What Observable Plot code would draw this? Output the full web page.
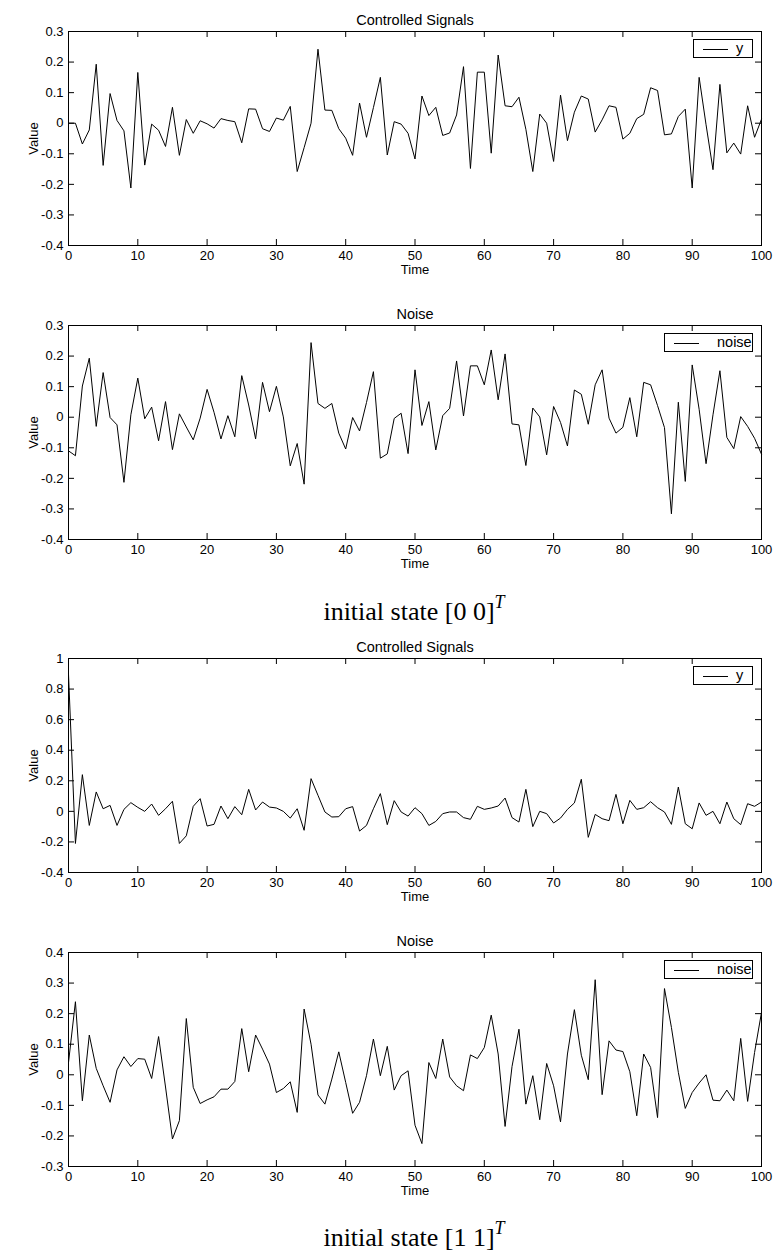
<!DOCTYPE html>
<html><head><meta charset="utf-8">
<script src="https://cdn.jsdelivr.net/npm/d3@7"></script>
<script src="https://cdn.jsdelivr.net/npm/@observablehq/plot@0.6"></script>
<style>
body{margin:0;background:#fff;}
#root{position:relative;width:776px;height:1254px;overflow:hidden;font-family:"Liberation Sans",Arial,sans-serif;background:#fff;}
.legend{position:absolute;border:1px solid #000;background:#fff;box-sizing:border-box;font-size:14.5px;}
.legend .ln{position:absolute;height:0;border-top:1px solid #000;}
.legend .tx{position:absolute;line-height:1;}
.caption{position:absolute;left:214px;width:400px;text-align:center;font-family:"Liberation Serif","DejaVu Serif",serif;font-size:26px;line-height:1;white-space:nowrap;}
.caption sup{font-style:italic;font-size:18px;position:relative;top:-2px;}
</style></head><body><div id="root"></div>
<script>
// ---- data ----
const time = Array.from({length: 101}, (_, i) => i);
const xTicks = [0, 10, 20, 30, 40, 50, 60, 70, 80, 90, 100];
const yTicksA = [-0.4, -0.3, -0.2, -0.1, 0, 0.1, 0.2, 0.3];
const yTicksB = [-0.4, -0.2, 0, 0.2, 0.4, 0.6, 0.8, 1];
const yTicksC = [-0.3, -0.2, -0.1, 0, 0.1, 0.2, 0.3, 0.4];

const ySignal1 = [0.0, 0.0, -0.068, -0.022, 0.193, -0.138, 0.097, 0.009, -0.025, -0.212,
 0.166, -0.137, -0.003, -0.023, -0.076, 0.052, -0.105, 0.012, -0.033, 0.008,
 -0.002, -0.016, 0.015, 0.009, 0.005, -0.064, 0.047, 0.046, -0.018, -0.027,
 0.017, 0.010, 0.055, -0.158, -0.080, 0.0, 0.242, 0.043, 0.042, -0.018,
 -0.049, -0.105, 0.066, -0.046, 0.051, 0.150, -0.104, 0.005, -0.003, -0.033,
 -0.117, 0.089, 0.025, 0.052, -0.040, -0.032, 0.027, 0.185, -0.148, 0.167,
 0.167, -0.098, 0.223, 0.057, 0.054, 0.085, -0.020, -0.158, 0.030, 0.0,
 -0.125, 0.092, -0.057, 0.036, 0.089, 0.079, -0.029, 0.011, 0.057, 0.052,
 -0.052, -0.033, 0.015, 0.029, 0.116, 0.107, -0.038, -0.035, 0.022, 0.046,
 -0.212, 0.150, -0.005, -0.152, 0.127, -0.097, -0.065, -0.101, 0.057, -0.046,
 0.013];

const noise1 = [-0.110, -0.126, 0.102, 0.193, -0.030, 0.146, -0.001, -0.025, -0.213, 0.008,
 0.128, -0.005, 0.033, -0.077, 0.051, -0.106, 0.011, -0.032, -0.074, -0.003,
 0.091, 0.016, -0.071, 0.005, -0.064, 0.136, 0.040, -0.071, 0.114, 0.018,
 0.101, 0.001, -0.159, -0.086, -0.219, 0.244, 0.045, 0.029, 0.045, -0.052,
 -0.104, -0.001, -0.045, 0.048, 0.149, -0.134, -0.120, -0.004, 0.013, -0.119,
 0.155, -0.027, 0.051, -0.107, 0.005, 0.029, 0.184, 0.004, 0.168, 0.168,
 0.106, 0.220, 0.057, 0.207, -0.022, -0.025, -0.158, 0.030, 0.001, -0.123,
 0.035, -0.017, -0.094, 0.089, 0.075, -0.023, 0.106, 0.155, -0.003, -0.052,
 -0.033, 0.064, -0.064, 0.114, 0.106, 0.038, -0.034, -0.316, 0.049, -0.210,
 0.171, 0.026, -0.152, 0.008, 0.152, -0.066, -0.103, 0.002, -0.030, -0.069,
 -0.121];

const ySignal2 = [0.900, -0.210, 0.240, -0.092, 0.127, 0.017, 0.039, -0.092, 0.013, 0.057,
 0.026, 0.0, 0.048, -0.026, 0.017, 0.066, -0.210, -0.160, 0.033, 0.083,
 -0.096, -0.085, 0.035, -0.048, 0.031, -0.022, 0.144, 0.009, 0.061, 0.028,
 0.022, 0.0, -0.044, 0.017, -0.124, 0.214, 0.105, -0.004, -0.037, -0.035,
 0.017, 0.031, -0.129, -0.092, 0.017, 0.116, -0.087, 0.070, -0.004, -0.031,
 0.024, -0.015, -0.092, -0.066, -0.015, -0.004, -0.004, -0.041, -0.052, 0.033,
 0.013, 0.022, 0.035, 0.087, -0.041, -0.070, 0.144, -0.100, 0.0, -0.015,
 -0.076, -0.044, 0.013, 0.055, 0.210, -0.170, -0.020, -0.048, -0.061, 0.111,
 -0.081, 0.072, 0.013, 0.024, 0.063, 0.024, -0.004, -0.085, 0.159, -0.081,
 -0.114, 0.055, -0.026, 0.0, -0.081, 0.061, -0.048, -0.087, 0.050, 0.033,
 0.061];

const noise2 = [0.040, 0.239, -0.085, 0.130, 0.021, -0.036, -0.090, 0.016, 0.059, 0.027,
 0.053, 0.051, -0.012, 0.125, -0.040, -0.210, -0.150, 0.184, -0.041, -0.094,
 -0.082, -0.072, -0.047, -0.047, -0.022, 0.151, 0.010, 0.130, 0.084, 0.035,
 -0.058, -0.045, -0.023, -0.123, 0.215, 0.100, -0.066, -0.096, -0.014, 0.075,
 -0.025, -0.126, -0.090, -0.003, 0.117, -0.003, 0.093, -0.050, -0.003, 0.013,
 -0.165, -0.225, 0.040, -0.012, 0.117, -0.007, -0.036, -0.052, 0.065, 0.053,
 0.089, 0.195, 0.068, -0.169, 0.027, 0.149, -0.096, -0.003, -0.147, 0.037,
 -0.036, -0.154, 0.068, 0.213, 0.064, -0.016, 0.311, -0.065, 0.111, 0.081,
 0.076, 0.010, -0.134, 0.068, 0.024, -0.140, 0.282, 0.155, 0.008, -0.110,
 -0.058, -0.027, 0.0, -0.083, -0.085, -0.050, -0.085, 0.119, -0.087, 0.073,
 0.204];

// ---- layout ----
const root = document.getElementById("root");
const W = 776, MT = 31, H = 214, MB = 49, ML = 68, MR = 15;
const fmt = d => Math.abs(d) < 1e-9 ? "0" : String(+d.toFixed(1));

function panel({values, title, yDomain, yTicks, frameTop, legendLabel, legendLeft, legendWidth, legendTextLeft}) {
  const data = time.map((t, i) => ({t, v: values[i]}));
  const lx = 6 / (W - ML - MR) * 100;
  const ly = 6 / H * (yDomain[1] - yDomain[0]);
  const xIn = xTicks.filter(d => d > 0 && d < 100);
  const yIn = yTicks.filter(d => d > yDomain[0] + 1e-9 && d < yDomain[1] - 1e-9);
  const svg = Plot.plot({
    width: W, height: MT + H + MB,
    marginTop: MT, marginBottom: MB, marginLeft: ML, marginRight: MR,
    style: {fontFamily: "'Liberation Sans', Arial, sans-serif", fontSize: "13px", background: "#fff", color: "#000", overflow: "visible"},
    x: {domain: [0, 100]},
    y: {domain: yDomain},
    marks: [
      Plot.axisX(xTicks, {tickSize: 0, tickPadding: 5, tickFormat: d => String(d), fontSize: 13,
        label: "Time", labelAnchor: "center", labelArrow: "none", labelOffset: 28}),
      Plot.axisY(yTicks, {tickSize: 0, tickPadding: 5, tickFormat: fmt, fontSize: 13,
        label: "Value", labelAnchor: "center", labelArrow: "none", labelOffset: 40}),
      Plot.ruleX(xIn, {x: d => d, y1: yDomain[0], y2: yDomain[0] + ly, stroke: "black"}),
      Plot.ruleX(xIn, {x: d => d, y1: yDomain[1] - ly, y2: yDomain[1], stroke: "black"}),
      Plot.ruleY(yIn, {y: d => d, x1: 0, x2: lx, stroke: "black"}),
      Plot.ruleY(yIn, {y: d => d, x1: 100 - lx, x2: 100, stroke: "black"}),
      Plot.line(data, {x: "t", y: "v", stroke: "black", strokeWidth: 1}),
      Plot.frame({stroke: "black", strokeWidth: 1}),
      Plot.text([title], {text: d => d, frameAnchor: "top", dy: -17, fontSize: 14.5, fill: "black"})
    ]
  });
  svg.style.position = "absolute";
  svg.style.left = "0px";
  svg.style.top = (frameTop - MT) + "px";
  root.appendChild(svg);

  const lg = document.createElement("div");
  lg.className = "legend";
  lg.style.left = legendLeft + "px";
  lg.style.top = (frameTop + 8) + "px";
  lg.style.width = legendWidth + "px";
  lg.style.height = "19px";
  const ln = document.createElement("div");
  ln.className = "ln";
  ln.style.left = "9px"; ln.style.width = "25px"; ln.style.top = "9px";
  const tx = document.createElement("div");
  tx.className = "tx";
  tx.style.left = legendTextLeft + "px"; tx.style.top = "1px";
  tx.textContent = legendLabel;
  lg.appendChild(ln); lg.appendChild(tx);
  root.appendChild(lg);
}

function caption(txt, baselineY) {
  const c = document.createElement("div");
  c.className = "caption";
  c.style.top = (baselineY - 22) + "px";
  c.innerHTML = txt + "<sup>T</sup>";
  root.appendChild(c);
}

panel({values: ySignal1, title: "Controlled Signals", yDomain: [-0.4, 0.3], yTicks: yTicksA, frameTop: 31,
  legendLabel: "y", legendLeft: 693, legendWidth: 60, legendTextLeft: 42});
panel({values: noise1, title: "Noise", yDomain: [-0.4, 0.3], yTicks: yTicksA, frameTop: 325,
  legendLabel: "noise", legendLeft: 664, legendWidth: 89, legendTextLeft: 52});
caption("initial state [0 0]", 617);
panel({values: ySignal2, title: "Controlled Signals", yDomain: [-0.4, 1], yTicks: yTicksB, frameTop: 658,
  legendLabel: "y", legendLeft: 693, legendWidth: 60, legendTextLeft: 42});
panel({values: noise2, title: "Noise", yDomain: [-0.3, 0.4], yTicks: yTicksC, frameTop: 952,
  legendLabel: "noise", legendLeft: 664, legendWidth: 89, legendTextLeft: 52});
caption("initial state [1 1]", 1243);
</script>
</body></html>
